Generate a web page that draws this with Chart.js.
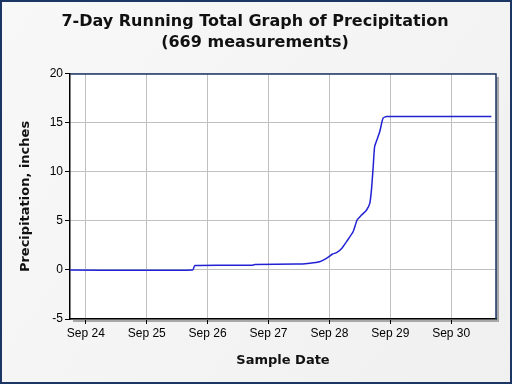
<!DOCTYPE html>
<html>
<head>
<meta charset="utf-8">
<script src="https://cdn.jsdelivr.net/npm/chart.js@4.4.1/dist/chart.umd.min.js"></script>
<style>
  html, body { margin: 0; padding: 0; background: #fff; }
  canvas { display: block; }
</style>
</head>
<body>
<canvas id="chart" width="512" height="384"></canvas>
<script>
// Data
const sampleTimes = [
  '2015-09-23T17:45', '2015-09-25T18:05', '2015-09-25T19:00', '2015-09-26T17:20',
  '2015-09-26T18:40', '2015-09-27T11:00', '2015-09-27T16:20', '2015-09-27T20:10',
  '2015-09-27T22:50', '2015-09-28T01:15', '2015-09-28T02:50', '2015-09-28T04:50',
  '2015-09-28T06:45', '2015-09-28T09:20', '2015-09-28T10:55', '2015-09-28T12:40',
  '2015-09-28T14:35', '2015-09-28T15:55', '2015-09-28T16:35', '2015-09-28T17:15',
  '2015-09-28T17:50', '2015-09-28T18:45', '2015-09-28T19:50', '2015-09-28T21:10',
  '2015-09-28T22:30', '2015-09-30T15:50'
];
const precipTotals = [
  0, 0, 0.45, 0.48,
  0.55, 0.6, 0.7, 0.85,
  1.19, 1.63, 1.77, 2.2,
  2.9, 3.9, 5.1, 5.6,
  6.1, 6.8, 8.2, 10.5,
  12.6, 13.3, 14.1, 15.5,
  15.65, 15.65
];
const dayTicks = ['Sep 24', 'Sep 25', 'Sep 26', 'Sep 27', 'Sep 28', 'Sep 29', 'Sep 30'];
const yTicks = [-5, 0, 5, 10, 15, 20];

// x is measured in days from the first tick (Sep 24 00:00)
const DAY_MS = 86400000;
const origin = Date.parse('2015-09-24T00:00Z');
const toDays = s => (Date.parse(s + 'Z') - origin) / DAY_MS;
const points = sampleTimes.map((t, i) => ({ x: toDays(t), y: precipTotals[i] }));

const backgroundPlugin = {
  id: 'frame',
  beforeDraw(chart) {
    const { ctx, width, height } = chart;
    ctx.save();
    const g = ctx.createLinearGradient(0, 0, width, height);
    g.addColorStop(0, '#f8f8f8');
    g.addColorStop(1, '#f0f0f0');
    ctx.fillStyle = g;
    ctx.fillRect(0, 0, width, height);
    ctx.strokeStyle = '#1c3664';
    ctx.lineWidth = 2;
    ctx.strokeRect(1, 1, width - 2, height - 2);
    const a = chart.chartArea;
    // shadow + white plot area
    ctx.fillStyle = '#a8a8a8';
    ctx.fillRect(a.left + 3, a.top + 3, a.right - a.left, a.bottom - a.top);
    ctx.fillStyle = '#ffffff';
    ctx.fillRect(a.left, a.top, a.right - a.left, a.bottom - a.top);
    ctx.restore();
  },
  afterDraw(chart) {
    const { ctx } = chart;
    const a = chart.chartArea;
    ctx.save();
    ctx.lineWidth = 1.5;
    ctx.strokeStyle = '#1c3664';
    ctx.beginPath();
    ctx.moveTo(a.left, a.top);
    ctx.lineTo(a.right, a.top);
    ctx.lineTo(a.right, a.bottom);
    ctx.stroke();
    ctx.restore();
  }
};

new Chart(document.getElementById('chart'), {
  type: 'line',
  data: {
    datasets: [{
      data: points,
      borderColor: '#2222d4',
      borderWidth: 1.5,
      pointRadius: 0,
      tension: 0.2,
      fill: false
    }]
  },
  options: {
    responsive: false,
    animation: false,
    layout: { padding: { left: 14, right: 16, top: 0, bottom: 12 } },
    plugins: {
      legend: { display: false },
      tooltip: { enabled: false },
      title: {
        display: true,
        text: ['7-Day Running Total Graph of Precipitation', '(669 measurements)'],
        color: '#111',
        font: { family: 'DejaVu Sans', size: 16, weight: 'bold', lineHeight: 1.28 },
        padding: { top: 12, bottom: 21 }
      }
    },
    scales: {
      x: {
        type: 'linear',
        min: toDays('2015-09-23T17:45'),
        max: toDays('2015-09-30T17:40'),
        afterBuildTicks: s => { s.ticks = dayTicks.map((_, i) => ({ value: i })); },
        afterFit: s => { s.height = 53; },
        ticks: {
          callback: v => dayTicks[v],
          color: '#000',
          font: { family: 'Liberation Sans', size: 12 },
          maxRotation: 0,
          padding: 2
        },
        grid: { color: '#c0c0c0', tickColor: '#000', tickLength: 5 },
        border: { color: '#000', width: 1.5 },
        title: {
          display: true,
          text: 'Sample Date',
          color: '#111',
          font: { family: 'DejaVu Sans', size: 13, weight: 'bold' },
          padding: { top: 12 }
        }
      },
      y: {
        min: -5,
        max: 20,
        afterBuildTicks: s => { s.ticks = yTicks.map(v => ({ value: v })); },
        afterFit: s => { s.width = 56; },
        ticks: {
          color: '#000',
          font: { family: 'Liberation Sans', size: 12 },
          padding: 2
        },
        grid: { color: '#c0c0c0', tickColor: '#000', tickLength: 5 },
        border: { color: '#000', width: 1.5 },
        title: {
          display: true,
          text: 'Precipitation, inches',
          color: '#111',
          font: { family: 'DejaVu Sans', size: 13, weight: 'bold' },
          padding: { bottom: 4 }
        }
      }
    }
  },
  plugins: [backgroundPlugin]
});
</script>
</body>
</html>
